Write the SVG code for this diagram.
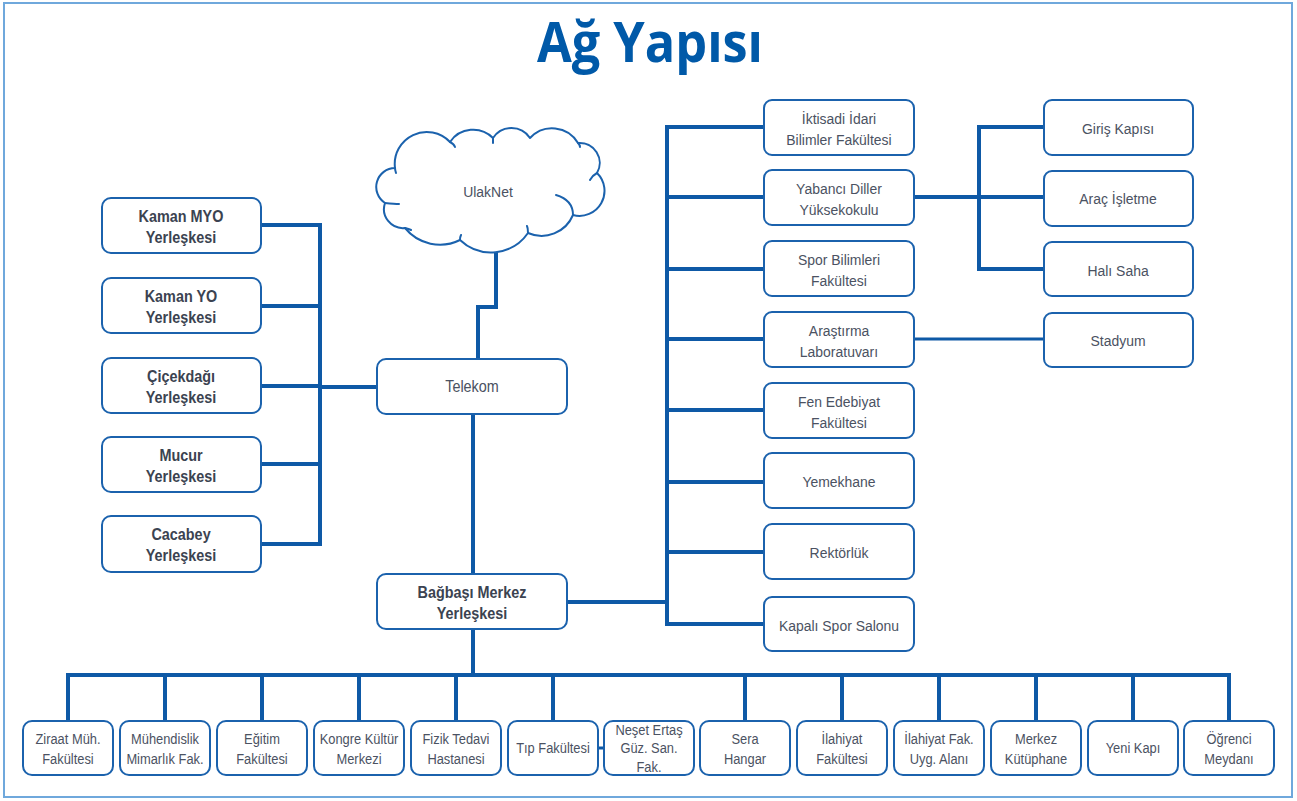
<svg xmlns="http://www.w3.org/2000/svg" width="1297" height="801" viewBox="0 0 1297 801">
<style>
.frame{fill:#fff;stroke:#6FA8DC;stroke-width:2}
.box{fill:#fff;stroke:#1B62AD;stroke-width:2}
.ln{fill:none;stroke:#0E59A6;stroke-width:4;stroke-linejoin:miter;stroke-linecap:butt}
.thin{stroke-width:3}
.cloud{fill:#fff;stroke:#1B62AD;stroke-width:2;stroke-linejoin:round}
.hook{fill:none;stroke:#1B62AD;stroke-width:2;stroke-linecap:round}
.t{font-family:"Liberation Sans Narrow","Liberation Sans",Arial,sans-serif;fill:#4B5262;text-anchor:middle;font-size:15.5px;transform-box:fill-box;transform-origin:center;transform:scaleX(0.9)}
.b{font-weight:bold;fill:#3B4351;font-size:16px}
.s{font-size:14px;transform:scaleX(0.92)}
.title{font-family:"Open Sans","Liberation Sans",sans-serif;font-weight:bold;font-size:55px;fill:#0059A8;text-anchor:middle}
</style>
<rect class="frame" x="4" y="3" width="1288" height="794"/>
<text class="title" x="650" y="62" textLength="226" lengthAdjust="spacingAndGlyphs">Ağ Yapısı</text>

<g id="connectors">
<path class="ln" d="M262,225 H320 V544 H262"/>
<path class="ln" d="M262,306 H320 M262,386 H320 M262,464 H320"/>
<path class="ln" d="M320,387 H377"/>
<path class="ln" d="M496,250 V307 H478 V359"/>
<path class="ln" d="M473,414 V574"/>
<path class="ln" d="M473,629 V675"/>
<path class="ln" d="M68,721 V675 H1229 V721"/>
<path class="ln" d="M165,675 V721 M262,675 V721 M359,675 V721 M456,675 V721 M553,675 V721 M745,675 V721 M842,675 V721 M939,675 V721 M1036,675 V721 M1133,675 V721"/>
<path class="ln" d="M567,602 H667"/>
<path class="ln" d="M764,127 H667 V624 H764"/>
<path class="ln" d="M667,197 H764 M667,269 H764 M667,339 H764 M667,410 H764 M667,482 H764 M667,552 H764"/>
<path class="ln" d="M914,197 H1044 M1044,127 H979 V269 H1044"/>
<path class="ln thin" d="M914,339 H1044"/>
<path class="ln thin" d="M597,748 H605"/>
</g>

<g id="ulaknet">
<path class="cloud" d="M395,168 A32,32 0 0 1 450,142 A28,28 0 0 1 493,138 A22,22 0 0 1 530,138 A30,30 0 0 1 578,143 A20,20 0 0 1 597,173 A25,25 0 0 1 573,215 A34,34 0 0 1 528,233 A45,45 0 0 1 460,240 A45,45 0 0 1 405,228 A19,19 0 0 1 385,203 A19,19 0 0 1 395,168 Z"/>
<path class="hook" d="M450,142 Q454,144 455,147 M493,138 Q493,140 493,143 M578,143 Q580,145 580,147 M597,173 Q593,175 590,180 M573,215 Q573,200 556,195 M528,233 Q528,228 527,226 M460,240 Q460,237 461,235 M405,228 Q409,229 411,230 M385,203 Q395,204 399,204 M395,168 Q395,170 396,173"/>
<text class="t" x="488" y="197">UlakNet</text>
</g>

<g id="telekom"><rect class="box" x="377" y="359" width="190" height="55" rx="9"/><text class="t" x="472" y="392" style="font-size:16px">Telekom</text></g>
<g id="bagbasi"><rect class="box" x="377" y="574" width="190" height="55" rx="9"/><text class="t b" x="472" y="598">Bağbaşı Merkez</text><text class="t b" x="472" y="619">Yerleşkesi</text></g>

<g id="kaman-myo"><rect class="box" x="102" y="198" width="159" height="55" rx="9"/><text class="t b" x="181" y="222">Kaman MYO</text><text class="t b" x="181" y="243">Yerleşkesi</text></g>
<g id="kaman-yo"><rect class="box" x="102" y="278" width="159" height="55" rx="9"/><text class="t b" x="181" y="302">Kaman YO</text><text class="t b" x="181" y="323">Yerleşkesi</text></g>
<g id="cicekdagi"><rect class="box" x="102" y="358" width="159" height="55" rx="9"/><text class="t b" x="181" y="382">Çiçekdağı</text><text class="t b" x="181" y="403">Yerleşkesi</text></g>
<g id="mucur"><rect class="box" x="102" y="437" width="159" height="55" rx="9"/><text class="t b" x="181" y="461">Mucur</text><text class="t b" x="181" y="482">Yerleşkesi</text></g>
<g id="cacabey"><rect class="box" x="102" y="516" width="159" height="56" rx="9"/><text class="t b" x="181" y="540">Cacabey</text><text class="t b" x="181" y="561">Yerleşkesi</text></g>

<g id="iktisadi"><rect class="box" x="764" y="100" width="150" height="55" rx="8"/><text class="t" x="839" y="124">İktisadi İdari</text><text class="t" x="839" y="145">Bilimler Fakültesi</text></g>
<g id="yabanci"><rect class="box" x="764" y="170" width="150" height="55" rx="8"/><text class="t" x="839" y="194">Yabancı Diller</text><text class="t" x="839" y="215">Yüksekokulu</text></g>
<g id="spor"><rect class="box" x="764" y="241" width="150" height="55" rx="8"/><text class="t" x="839" y="265">Spor Bilimleri</text><text class="t" x="839" y="286">Fakültesi</text></g>
<g id="arastirma"><rect class="box" x="764" y="312" width="150" height="55" rx="8"/><text class="t" x="839" y="336">Araştırma</text><text class="t" x="839" y="357">Laboratuvarı</text></g>
<g id="fen"><rect class="box" x="764" y="383" width="150" height="55" rx="8"/><text class="t" x="839" y="407">Fen Edebiyat</text><text class="t" x="839" y="428">Fakültesi</text></g>
<g id="yemekhane"><rect class="box" x="764" y="453" width="150" height="55" rx="8"/><text class="t" x="839" y="487">Yemekhane</text></g>
<g id="rektorluk"><rect class="box" x="764" y="524" width="150" height="55" rx="8"/><text class="t" x="839" y="558">Rektörlük</text></g>
<g id="kapali"><rect class="box" x="764" y="597" width="150" height="54" rx="8"/><text class="t" x="839" y="631">Kapalı Spor Salonu</text></g>

<g id="giris"><rect class="box" x="1044" y="100" width="149" height="55" rx="8"/><text class="t" x="1118" y="134">Giriş Kapısı</text></g>
<g id="arac"><rect class="box" x="1044" y="171" width="149" height="55" rx="8"/><text class="t" x="1118" y="204">Araç İşletme</text></g>
<g id="hali"><rect class="box" x="1044" y="242" width="149" height="54" rx="8"/><text class="t" x="1118" y="276">Halı Saha</text></g>
<g id="stadyum"><rect class="box" x="1044" y="313" width="149" height="54" rx="8"/><text class="t" x="1118" y="346">Stadyum</text></g>

<g id="ziraat"><rect class="box" x="23" y="721" width="90" height="54" rx="9"/><text class="t s" x="68" y="744">Ziraat Müh.</text><text class="t s" x="68" y="764">Fakültesi</text></g>
<g id="muhendislik"><rect class="box" x="120" y="721" width="90" height="54" rx="9"/><text class="t s" x="165" y="744">Mühendislik</text><text class="t s" x="165" y="764">Mimarlık Fak.</text></g>
<g id="egitim"><rect class="box" x="217" y="721" width="90" height="54" rx="9"/><text class="t s" x="262" y="744">Eğitim</text><text class="t s" x="262" y="764">Fakültesi</text></g>
<g id="kongre"><rect class="box" x="314" y="721" width="90" height="54" rx="9"/><text class="t s" x="359" y="744">Kongre Kültür</text><text class="t s" x="359" y="764">Merkezi</text></g>
<g id="fizik"><rect class="box" x="411" y="721" width="90" height="54" rx="9"/><text class="t s" x="456" y="744">Fizik Tedavi</text><text class="t s" x="456" y="764">Hastanesi</text></g>
<g id="tip"><rect class="box" x="508" y="721" width="90" height="54" rx="9"/><text class="t s" x="553" y="753">Tıp Fakültesi</text></g>
<g id="neset"><rect class="box" x="604" y="721" width="90" height="54" rx="9"/><text class="t s" x="649" y="735">Neşet Ertaş</text><text class="t s" x="649" y="753">Güz. San.</text><text class="t s" x="649" y="772">Fak.</text></g>
<g id="sera"><rect class="box" x="700" y="721" width="90" height="54" rx="9"/><text class="t s" x="745" y="744">Sera</text><text class="t s" x="745" y="764">Hangar</text></g>
<g id="ilahiyat"><rect class="box" x="797" y="721" width="90" height="54" rx="9"/><text class="t s" x="842" y="744">İlahiyat</text><text class="t s" x="842" y="764">Fakültesi</text></g>
<g id="ilahiyat-uyg"><rect class="box" x="894" y="721" width="90" height="54" rx="9"/><text class="t s" x="939" y="744">İlahiyat Fak.</text><text class="t s" x="939" y="764">Uyg. Alanı</text></g>
<g id="kutuphane"><rect class="box" x="991" y="721" width="90" height="54" rx="9"/><text class="t s" x="1036" y="744">Merkez</text><text class="t s" x="1036" y="764">Kütüphane</text></g>
<g id="yeni-kapi"><rect class="box" x="1088" y="721" width="90" height="54" rx="9"/><text class="t s" x="1133" y="753">Yeni Kapı</text></g>
<g id="ogrenci"><rect class="box" x="1184" y="721" width="90" height="54" rx="9"/><text class="t s" x="1229" y="744">Öğrenci</text><text class="t s" x="1229" y="764">Meydanı</text></g>
</svg>
